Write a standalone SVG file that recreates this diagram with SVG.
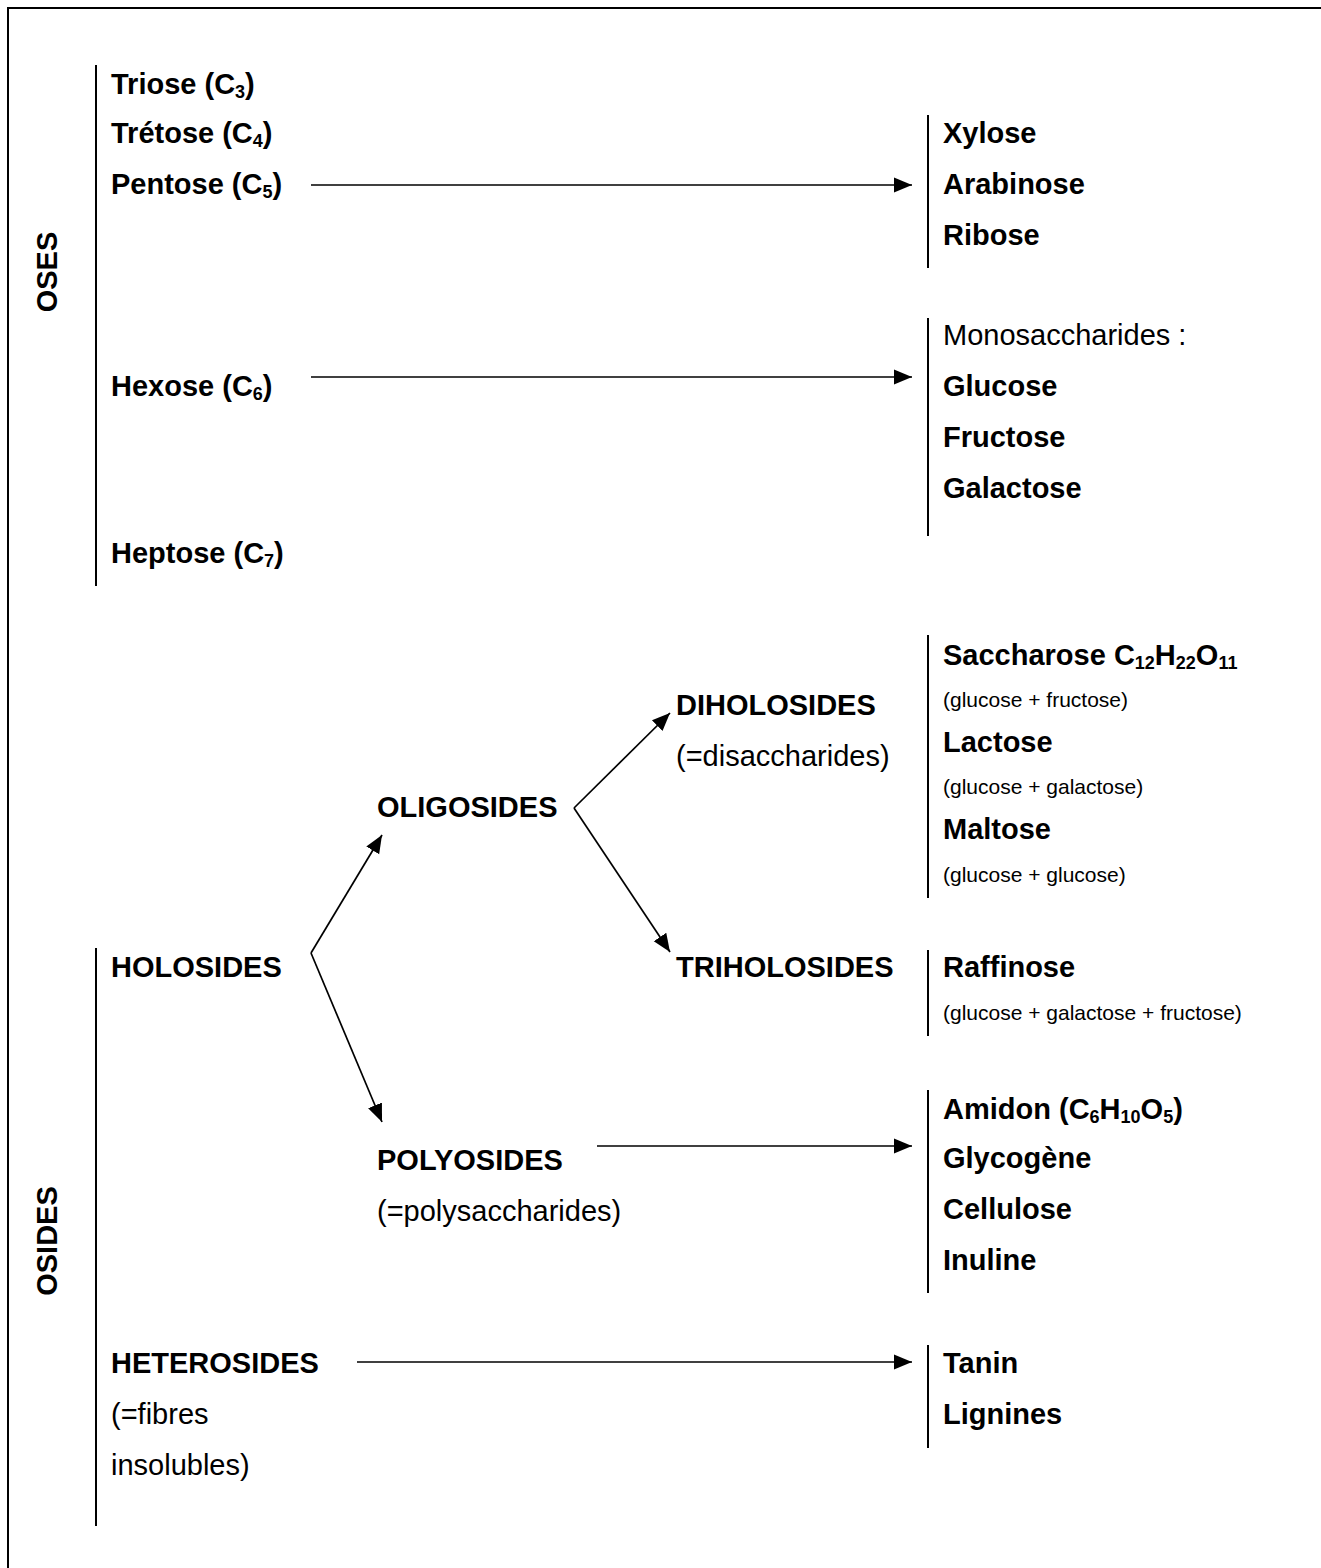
<svg xmlns="http://www.w3.org/2000/svg" width="1321" height="1568" viewBox="0 0 1321 1568">
<style>
text{font-family:"Liberation Sans",Arial,sans-serif;fill:#000}
.b{font-size:29px;font-weight:bold}
.r{font-size:29px}
.s{font-size:21px}
.sub{font-size:18px}
.ln{stroke:#000;stroke-width:2;fill:none}
.ar{stroke:#000;stroke-width:1.7;fill:none;marker-end:url(#ah)}
</style>
<defs>
<marker id="ah" markerUnits="userSpaceOnUse" markerWidth="20" markerHeight="18" refX="18" refY="9" orient="auto">
<path d="M0,1.5 L18,9 L0,16.5 Z" fill="#000"/>
</marker>
</defs>
<rect width="1321" height="1568" fill="#fff"/>
<g id="frame">
<line class="ln" x1="8" y1="8" x2="1321" y2="8"/>
<line class="ln" x1="8" y1="7" x2="8" y2="1568"/>
</g>
<g id="oses-label"><text class="b" transform="translate(57,272) rotate(-90)" text-anchor="middle">OSES</text></g>
<g id="osides-label"><text class="b" transform="translate(57,1241) rotate(-90)" text-anchor="middle">OSIDES</text></g>
<g id="oses-list">
<line class="ln" x1="96" y1="65" x2="96" y2="586"/>
<text class="b" x="111" y="94">Triose (C<tspan class="sub" dy="4">3</tspan><tspan dy="-4">)</tspan></text>
<text class="b" x="111" y="143">Trétose (C<tspan class="sub" dy="4">4</tspan><tspan dy="-4">)</tspan></text>
<text class="b" x="111" y="194">Pentose (C<tspan class="sub" dy="4">5</tspan><tspan dy="-4">)</tspan></text>
<text class="b" x="111" y="396">Hexose (C<tspan class="sub" dy="4">6</tspan><tspan dy="-4">)</tspan></text>
<text class="b" x="111" y="563">Heptose (C<tspan class="sub" dy="4">7</tspan><tspan dy="-4">)</tspan></text>
</g>
<g id="pentoses">
<line class="ln" x1="928" y1="115" x2="928" y2="268"/>
<text class="b" x="943" y="143">Xylose</text>
<text class="b" x="943" y="194">Arabinose</text>
<text class="b" x="943" y="245">Ribose</text>
</g>
<g id="hexoses">
<line class="ln" x1="928" y1="318" x2="928" y2="536"/>
<text class="r" x="943" y="345">Monosaccharides :</text>
<text class="b" x="943" y="396">Glucose</text>
<text class="b" x="943" y="447">Fructose</text>
<text class="b" x="943" y="498">Galactose</text>
</g>
<g id="osides-list">
<line class="ln" x1="96" y1="948" x2="96" y2="1526"/>
<text class="b" x="111" y="977">HOLOSIDES</text>
<text class="b" x="111" y="1373">HETEROSIDES</text>
<text class="r" x="111" y="1424">(=fibres</text>
<text class="r" x="111" y="1475">insolubles)</text>
</g>
<g id="oligosides"><text class="b" x="377" y="817">OLIGOSIDES</text></g>
<g id="polyosides">
<text class="b" x="377" y="1170">POLYOSIDES</text>
<text class="r" x="377" y="1221">(=polysaccharides)</text>
</g>
<g id="diholosides">
<text class="b" x="676" y="715">DIHOLOSIDES</text>
<text class="r" x="676" y="766">(=disaccharides)</text>
</g>
<g id="triholosides"><text class="b" x="676" y="977">TRIHOLOSIDES</text></g>
<g id="disaccharides-list">
<line class="ln" x1="928" y1="635" x2="928" y2="898"/>
<text class="b" x="943" y="665">Saccharose C<tspan class="sub" dy="4">12</tspan><tspan dy="-4">H</tspan><tspan class="sub" dy="4">22</tspan><tspan dy="-4">O</tspan><tspan class="sub" dy="4">11</tspan></text>
<text class="s" x="943" y="707">(glucose + fructose)</text>
<text class="b" x="943" y="752">Lactose</text>
<text class="s" x="943" y="794">(glucose + galactose)</text>
<text class="b" x="943" y="839">Maltose</text>
<text class="s" x="943" y="882">(glucose + glucose)</text>
</g>
<g id="trisaccharides-list">
<line class="ln" x1="928" y1="950" x2="928" y2="1036"/>
<text class="b" x="943" y="977">Raffinose</text>
<text class="s" x="943" y="1020">(glucose + galactose + fructose)</text>
</g>
<g id="polysaccharides-list">
<line class="ln" x1="928" y1="1090" x2="928" y2="1293"/>
<text class="b" x="943" y="1119">Amidon (C<tspan class="sub" dy="4">6</tspan><tspan dy="-4">H</tspan><tspan class="sub" dy="4">10</tspan><tspan dy="-4">O</tspan><tspan class="sub" dy="4">5</tspan><tspan dy="-4">)</tspan></text>
<text class="b" x="943" y="1168">Glycogène</text>
<text class="b" x="943" y="1219">Cellulose</text>
<text class="b" x="943" y="1270">Inuline</text>
</g>
<g id="heterosides-list">
<line class="ln" x1="928" y1="1345" x2="928" y2="1448"/>
<text class="b" x="943" y="1373">Tanin</text>
<text class="b" x="943" y="1424">Lignines</text>
</g>
<g id="connectors">
<line class="ar" x1="311" y1="185" x2="912" y2="185"/>
<line class="ar" x1="311" y1="377" x2="912" y2="377"/>
<line class="ar" x1="597" y1="1146" x2="912" y2="1146"/>
<line class="ar" x1="357" y1="1362" x2="912" y2="1362"/>
<path class="ar" d="M311,953 L382,835"/>
<path class="ar" d="M311,953 L382,1122"/>
<path class="ar" d="M574,808 L670,713"/>
<path class="ar" d="M574,808 L670,952"/>
</g>
</svg>
